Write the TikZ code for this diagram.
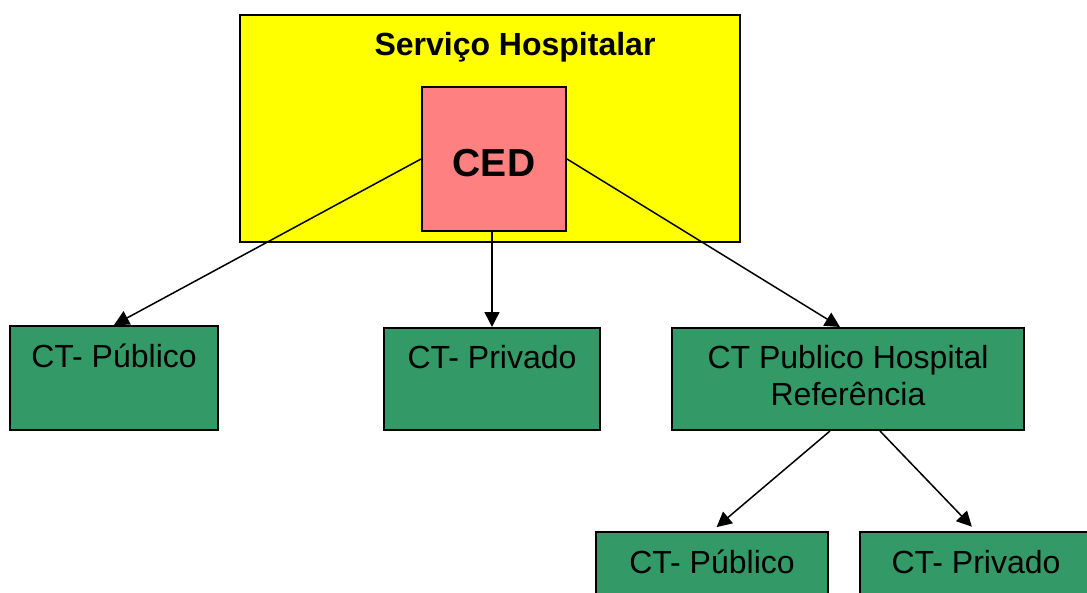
\documentclass[tikz,border=0pt]{standalone}
\usepackage{fontspec}
\setmainfont{Liberation Sans}
\usetikzlibrary{arrows.meta,calc}
\definecolor{hyellow}{HTML}{FFFF00}
\definecolor{cedred}{HTML}{FF8080}
\definecolor{ctgreen}{HTML}{339966}
\tikzset{
  frame/.style={draw=black, line width=2pt, rectangle, inner sep=0pt},
  greenbox/.style={frame, fill=ctgreen},
  lbl/.style={inner sep=0pt, anchor=base, font=\fontsize{32}{37}\selectfont, align=center},
  arr/.style={line width=1.5pt, -{Triangle[length=15pt,width=15pt]}}
}
\begin{document}
\begin{tikzpicture}[x=1pt,y=-1pt]
\clip (0,0) rectangle (1087,592);
\fill[white] (0,0) rectangle (1087,592);
% yellow service box
\node[frame, fill=hyellow, minimum width=500pt, minimum height=227pt] (serv) at (490,128.5) {};
\node[lbl, font=\bfseries\fontsize{32}{38}\selectfont] (servt) at (515,55) {Serviço Hospitalar};
% CED
\node[frame, fill=cedred, minimum width=144pt, minimum height=144pt] (ced) at (494,159) {};
\node[lbl, font=\bfseries\fontsize{39}{44}\selectfont] (cedt) at (494,176) {CED};
% level 2
\node[greenbox, minimum width=208pt, minimum height=104pt] (p1) at (114,378) {};
\node[lbl] (p1t) at (114,367) {CT- Público};
\node[greenbox, minimum width=216pt, minimum height=102pt] (p2) at (492,379) {};
\node[lbl] (p2t) at (492,368) {CT- Privado};
\node[greenbox, minimum width=352pt, minimum height=102pt] (p3) at (848,379) {};
\node[lbl] (p3t) at (848,368) {CT Publico Hospital};
\node[lbl] (p3u) at (848,405) {Referência};
% level 3
\node[greenbox, minimum width=232pt, minimum height=80pt] (b1) at (712,572) {};
\node[lbl] (b1t) at (712,573) {CT- Público};
\node[greenbox, minimum width=230pt, minimum height=80pt] (b2) at (975,572) {};
\node[lbl] (b2t) at (976,573) {CT- Privado};
% connectors
\coordinate (p3in) at ($(p3.north)+(-8,0)$);
\coordinate (p3l) at ($(p3.south)+(-18,0)$);
\coordinate (p3r) at ($(p3.south)+(32,0)$);
\draw[arr] (ced.west) -- (p1.north);
\draw[arr] (ced.south -| p2.north) -- (p2.north);
\draw[arr] (ced.east) -- (p3in);
\draw[arr, shorten >=6pt] (p3l) -- (b1.north);
\draw[arr, shorten >=6pt] (p3r) -- ($(b2.north)+(1,0)$);
\end{tikzpicture}
\end{document}
